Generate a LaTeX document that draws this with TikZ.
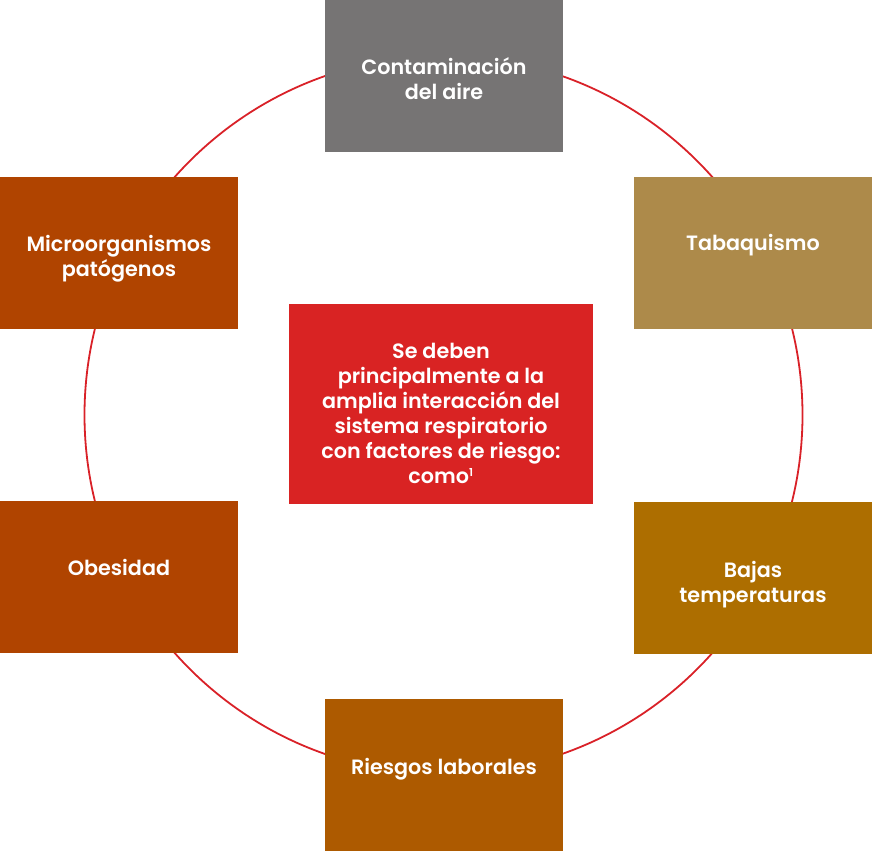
\documentclass[tikz,border=0pt]{standalone}
\usepackage{fontspec}
\newfontfamily\pop{Poppins SemiBold}
\definecolor{ringred}{HTML}{D92128}
\definecolor{cgray}{HTML}{767474}
\definecolor{ctab}{HTML}{AD8A4A}
\definecolor{cbaj}{HTML}{AD6E00}
\definecolor{crie}{HTML}{AD5A00}
\definecolor{cobe}{HTML}{B04400}
\definecolor{cred}{HTML}{D92323}
\begin{document}
\begin{tikzpicture}[x=1pt,y=-1pt,
  box/.style={rectangle, draw=none, inner sep=0pt, minimum width=238pt, minimum height=152pt},
  lbl/.style={text=white, align=center, font=\pop\fontsize{20.7}{25}\selectfont, inner sep=0pt}]
\useasboundingbox (0,0) rectangle (872,851);
\node[circle, draw=ringred, line width=1.8pt, minimum size=718pt, inner sep=0pt] (ring) at (443.5,415) {};
% boxes
\node[box, fill=cgray] (con) at (444,76) {};
\node[box, fill=ctab] (tab) at (753,253) {};
\node[box, fill=cbaj] (baj) at (753,578) {};
\node[box, fill=crie] (rie) at (444,775) {};
\node[box, fill=cobe] (obe) at (119,576.5) {};
\node[box, fill=cobe] (mic) at (119,253) {};
\node[rectangle, fill=cred, inner sep=0pt, minimum width=304pt, minimum height=200pt] (cen) at (441,403.5) {};
% labels
\node[lbl] (tcon) at (444,79) {Contaminación\\del aire};
\node[lbl] (ttab) at (753,245) {Tabaquismo};
\node[lbl] (tbaj) at (753,585) {Bajas\\temperaturas};
\node[lbl] (trie) at (444,769) {Riesgos laborales};
\node[lbl] (tobe) at (119,567) {Obesidad};
\node[lbl] (tmic) at (119,258.5) {Microorganismos\\patógenos};
\node[lbl] (tcen) at (441,413.5) {Se deben\\principalmente a la\\amplia interacción del\\sistema respiratorio\\con factores de riesgo:\\como\textsuperscript{\fontsize{11}{11}\selectfont 1}};
\end{tikzpicture}
\end{document}
